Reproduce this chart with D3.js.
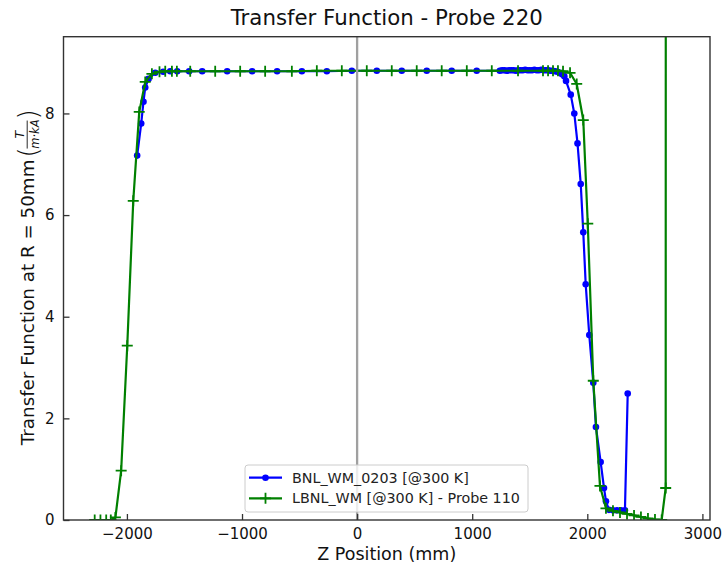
<!DOCTYPE html>
<html>
<head>
<meta charset="utf-8">
<script src="https://cdn.jsdelivr.net/npm/d3@7"></script>
<style>
  html, body { margin: 0; padding: 0; background: #fff; }
  svg { display: block; font-family: "DejaVu Sans", sans-serif; }
</style>
</head>
<body>
<svg id="chart" width="724" height="569"></svg>
<script>
// Transfer function scans along the magnet axis (Z in mm, TF in T/(m·kA))
const bnlZ = [-1911, -1876, -1856, -1841, -1812, -1754, -1685, -1624, -1563, -1459,
  -1346, -1129, -912, -695, -480, -263, -46, 171, 388, 605, 822, 1039,
  1240, 1260, 1280, 1300, 1320, 1340, 1360, 1380, 1400, 1420, 1440, 1460, 1480, 1500,
  1520, 1540, 1560, 1580, 1600, 1620, 1640, 1660, 1680, 1700, 1720, 1740, 1760, 1780, 1800,
  1815, 1856, 1887, 1915, 1943, 1965, 1986, 2017, 2052, 2075, 2116, 2145, 2162,
  2188, 2223, 2258, 2293, 2327, 2351];
const bnlTF = [7.17, 7.80, 8.23, 8.51, 8.68, 8.80, 8.82, 8.83, 8.83, 8.83,
  8.83, 8.83, 8.83, 8.83, 8.83, 8.83, 8.84, 8.84, 8.84, 8.84, 8.84, 8.84,
  8.84, 8.85, 8.85, 8.84, 8.85, 8.85, 8.85, 8.84, 8.85, 8.85, 8.85, 8.86, 8.85, 8.85,
  8.85, 8.86, 8.85, 8.85, 8.86, 8.85, 8.85, 8.85, 8.84, 8.84, 8.83, 8.82, 8.80, 8.77, 8.73,
  8.64, 8.37, 8.00, 7.41, 6.61, 5.66, 4.64, 3.64, 2.70, 1.83, 1.14, 0.63, 0.37,
  0.20, 0.19, 0.19, 0.19, 0.19, 2.49];

const lbnlZ = [-2280, -2230, -2180, -2140, -2100, -2050, -1997, -1945, -1893, -1841,
  -1783, -1717, -1667, -1609, -1566, -1450, -1233, -1016, -799, -567, -350, -133,
  84, 301, 518, 735, 953, 1170, 1398, 1615, 1659, 1702, 1745, 1789, 1850,
  1908, 1965, 2004, 2052, 2110, 2162, 2223, 2284, 2345, 2406, 2466, 2527, 2588,
  2646, 2681, 2684];
const lbnlTF = [0, 0, 0, 0, 0.05, 0.97, 3.43, 6.28, 8.03, 8.62,
  8.78, 8.82, 8.83, 8.83, 8.83, 8.83, 8.83, 8.83, 8.83, 8.83, 8.84, 8.84,
  8.84, 8.84, 8.84, 8.84, 8.84, 8.84, 8.84, 8.84, 8.84, 8.84, 8.84, 8.83, 8.80,
  8.58, 7.87, 5.83, 2.74, 0.67, 0.23, 0.18, 0.15, 0.12, 0.09, 0.06, 0.03, 0.01,
  0, 0.63, 40];

const xTicks = [-2000, -1000, 0, 1000, 2000, 3000];
const yTicks = [0, 2, 4, 6, 8];
const seriesNames = ["BNL_WM_0203 [@300 K]", "LBNL_WM [@300 K] - Probe 110"];
const titleText = "Transfer Function - Probe 220";
const xLabel = "Z Position (mm)";
const yLabel = "Transfer Function at R = 50mm ";

const margin = { left: 63.5, right: 14, top: 36.7, bottom: 49 };
const W = 724, H = 569;
const svg = d3.select("#chart");

const x = d3.scaleLinear().domain([-2551, 3066]).range([margin.left, W - margin.right]);
const y = d3.scaleLinear().domain([0, 9.51]).range([H - margin.bottom, margin.top]);

const fmt = d => (d < 0 ? "\u2212" + Math.abs(d) : String(d));

svg.append("defs").append("clipPath").attr("id", "plotClip")
  .append("rect")
  .attr("x", x.range()[0]).attr("y", y.range()[1])
  .attr("width", x.range()[1] - x.range()[0])
  .attr("height", y.range()[0] - y.range()[1]);

const plot = svg.append("g").attr("clip-path", "url(#plotClip)");

const line = d3.line().x(d => x(d[0])).y(d => y(d[1]));
const bnl = bnlZ.map((z, i) => [z, bnlTF[i]]);
const lbnl = lbnlZ.map((z, i) => [z, lbnlTF[i]]);

const BLUE = "#0000ff", GREEN = "#008000";

// BNL series: line with round markers
plot.append("path").datum(bnl)
  .attr("fill", "none").attr("stroke", BLUE).attr("stroke-width", 2.2)
  .attr("stroke-linejoin", "round").attr("d", line);
plot.append("g").selectAll("circle").data(bnl).join("circle")
  .attr("cx", d => x(d[0])).attr("cy", d => y(d[1])).attr("r", 3.3)
  .attr("fill", BLUE);

// LBNL series: line with plus markers
plot.append("path").datum(lbnl)
  .attr("fill", "none").attr("stroke", GREEN).attr("stroke-width", 2.2)
  .attr("stroke-linejoin", "round").attr("d", line);
plot.append("g").selectAll("path.plus").data(lbnl).join("path")
  .attr("class", "plus")
  .attr("d", d => {
    const cx = x(d[0]), cy = y(d[1]), s = 5.5;
    return `M${cx - s},${cy}H${cx + s}M${cx},${cy - s}V${cy + s}`;
  })
  .attr("stroke", GREEN).attr("stroke-width", 1.8).attr("fill", "none");

// Magnet centre reference line at Z = 0
plot.append("line")
  .attr("x1", x(0)).attr("x2", x(0))
  .attr("y1", y.range()[1]).attr("y2", y.range()[0])
  .attr("stroke", "#a0a0a0").attr("stroke-width", 2.3);

// Axes: ticks point inward
const xAxis = d3.axisBottom(x).tickValues(xTicks).tickFormat(fmt).tickSizeInner(-6).tickSizeOuter(0).tickPadding(8);
const yAxis = d3.axisLeft(y).tickValues(yTicks).tickFormat(d3.format("d")).tickSizeInner(-6).tickSizeOuter(0).tickPadding(9);

const gx = svg.append("g").attr("transform", `translate(0,${y.range()[0]})`).call(xAxis);
const gy = svg.append("g").attr("transform", `translate(${x.range()[0]},0)`).call(yAxis);
[gx, gy].forEach(g => {
  g.select(".domain").remove();
  g.selectAll(".tick line").attr("stroke", "#333").attr("stroke-width", 1.3);
  g.selectAll(".tick text").attr("fill", "#111").style("font-size", "15px")
    .style("font-family", "'DejaVu Sans', sans-serif");
});

// Frame
svg.append("rect")
  .attr("x", x.range()[0]).attr("y", y.range()[1])
  .attr("width", x.range()[1] - x.range()[0])
  .attr("height", y.range()[0] - y.range()[1])
  .attr("fill", "none").attr("stroke", "#333").attr("stroke-width", 1.4);

// Title and axis labels
const cxPlot = (x.range()[0] + x.range()[1]) / 2;
svg.append("text").attr("x", cxPlot).attr("y", 25)
  .attr("text-anchor", "middle").style("font-size", "21.3px").attr("fill", "#111")
  .text(titleText);

svg.append("text").attr("x", cxPlot).attr("y", 560)
  .attr("text-anchor", "middle").style("font-size", "17.5px").attr("fill", "#111")
  .text(xLabel);

// Y label with a fraction for the unit, centred on the plot height
const yl = svg.append("g");
const ylText = yl.append("text").attr("x", 0).attr("y", 0)
  .style("font-size", "18.3px").attr("fill", "#111").text(yLabel);
const lw = ylText.node().getComputedTextLength();
const fx = lw + 2;
yl.append("text").attr("x", fx).attr("y", 3).style("font-size", "26px")
  .style("font-weight", "300").attr("fill", "#111").text("(");
yl.append("text").attr("x", fx + 23).attr("y", -10.5).attr("text-anchor", "middle")
  .style("font-size", "12.5px").style("font-style", "italic").attr("fill", "#111").text("T");
yl.append("line").attr("x1", fx + 9).attr("x2", fx + 37).attr("y1", -6.8).attr("y2", -6.8)
  .attr("stroke", "#111").attr("stroke-width", 0.9);
yl.append("text").attr("x", fx + 23.5).attr("y", 5).attr("text-anchor", "middle")
  .style("font-size", "11.5px").style("font-style", "italic").attr("fill", "#111").text("m\u00b7kA");
yl.append("text").attr("x", fx + 38).attr("y", 3).style("font-size", "26px")
  .style("font-weight", "300").attr("fill", "#111").text(")");
const totalLen = fx + 46;
const cyPlot = (y.range()[0] + y.range()[1]) / 2;
yl.attr("transform", `translate(34,${cyPlot + totalLen / 2}) rotate(-90)`);

// Legend
const lg = svg.append("g").attr("transform", "translate(245,465)");
lg.append("rect").attr("width", 283).attr("height", 47).attr("rx", 3)
  .attr("fill", "#fff").attr("fill-opacity", 0.8)
  .attr("stroke", "#ccc").attr("stroke-width", 1);
const entries = [
  { name: seriesNames[0], color: BLUE, mark: "dot" },
  { name: seriesNames[1], color: GREEN, mark: "plus" }
];
entries.forEach((e, i) => {
  const cy = 12.7 + i * 20.6;
  const g = lg.append("g");
  g.append("line").attr("x1", 4).attr("x2", 37).attr("y1", cy).attr("y2", cy)
    .attr("stroke", e.color).attr("stroke-width", 2.2);
  if (e.mark === "dot") {
    g.append("circle").attr("cx", 20.5).attr("cy", cy).attr("r", 3.3).attr("fill", e.color);
  } else {
    g.append("path").attr("d", `M15,${cy}H26M20.5,${cy - 5.5}V${cy + 5.5}`)
      .attr("stroke", e.color).attr("stroke-width", 1.8);
  }
  g.append("text").attr("x", 47).attr("y", cy + 5).style("font-size", "14.3px")
    .attr("fill", "#222").text(e.name);
});
</script>
</body>
</html>
